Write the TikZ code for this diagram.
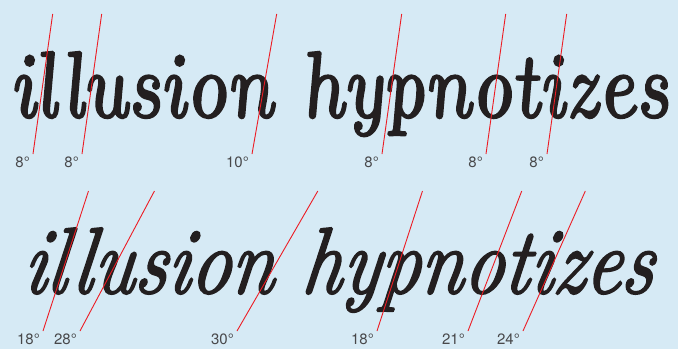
\documentclass[tikz,border=0pt]{standalone}
\usepackage{fontspec}
\usepackage{graphicx}
\usepackage{xcolor}
\newfontfamily\degfont{TeX Gyre Heros}
\newfontfamily\bookfont{Latin Modern Roman}[FakeBold=2.6]
\newfontfamily\swashfont{Latin Modern Roman}[FakeBold=2.2]
\definecolor{bgblue}{RGB}{214,234,245}
\definecolor{ink}{RGB}{35,31,32}
\definecolor{guidered}{RGB}{237,28,36}
\definecolor{labelgray}{RGB}{72,72,74}

\begin{document}
\begin{tikzpicture}[x=1pt,y=1pt,
  guide/.style={guidered, line width=0.9pt},
  deg/.style={labelgray, font=\degfont\fontsize{15}{15}\selectfont,
    inner sep=0pt, anchor=north east, xshift=-3pt, yshift=-3pt},
  word/.style={ink, inner sep=0pt, anchor=base west, transform shape}]
  \fill[bgblue] (0,0) rectangle (678,349);
  \useasboundingbox (0,0) rectangle (678,349);
  % upper line, book italic
  \node[word, xslant=-0.13] (upper) at (12,232) {\resizebox{658pt}{65pt}{\bookfont\itshape illusion hypnotizes}};
  % lower line, script italic
  \node[word, xslant=0.12] (lower) at (21,56) {\resizebox{630pt}{65pt}{\swashfont\itshape illusion hypnotizes}};
  % guide feet
  \coordinate (g1) at (33,195);
  \coordinate (g2) at (82,195);
  \coordinate (g3) at (252,195);
  \coordinate (g4) at (382,195);
  \coordinate (g5) at (486,195);
  \coordinate (g6) at (547,195);
  \coordinate (g7) at (43,18);
  \coordinate (g8) at (80,18);
  \coordinate (g9) at (237,18);
  \coordinate (g10) at (377,18);
  \coordinate (g11) at (468,18);
  \coordinate (g12) at (523,18);
  % slant guides
  \draw[guide] (g1) -- ++({140*tan(8)},140);
  \draw[guide] (g2) -- ++({140*tan(8)},140);
  \draw[guide] (g3) -- ++({140*tan(10)},140);
  \draw[guide] (g4) -- ++({140*tan(8)},140);
  \draw[guide] (g5) -- ++({140*tan(8)},140);
  \draw[guide] (g6) -- ++({140*tan(8)},140);
  \draw[guide] (g7) -- ++({140*tan(18)},140);
  \draw[guide] (g8) -- ++({140*tan(28)},140);
  \draw[guide] (g9) -- ++({140*tan(30)},140);
  \draw[guide] (g10) -- ++({140*tan(18)},140);
  \draw[guide] (g11) -- ++({140*tan(21)},140);
  \draw[guide] (g12) -- ++({140*tan(24)},140);
  % angle labels
  \node[deg] (l1) at (g1) {8°};
  \node[deg] (l2) at (g2) {8°};
  \node[deg] (l3) at (g3) {10°};
  \node[deg] (l4) at (g4) {8°};
  \node[deg] (l5) at (g5) {8°};
  \node[deg] (l6) at (g6) {8°};
  \node[deg] (l7) at (g7) {18°};
  \node[deg] (l8) at (g8) {28°};
  \node[deg] (l9) at (g9) {30°};
  \node[deg] (l10) at (g10) {18°};
  \node[deg] (l11) at (g11) {21°};
  \node[deg] (l12) at (g12) {24°};
\end{tikzpicture}
\end{document}
